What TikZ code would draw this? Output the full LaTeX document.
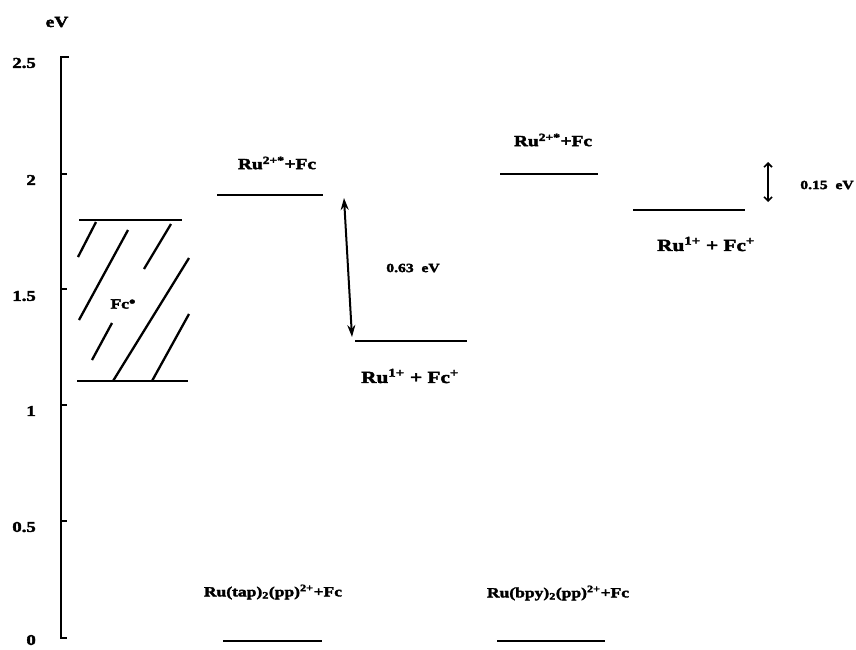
\documentclass[tikz,border=0pt]{standalone}
\usepackage{fontspec}
\setmainfont{Liberation Serif}
\newfontfamily\labfont{Liberation Serif}[FakeStretch=1.25,FakeBold=2.5]
\usetikzlibrary{arrows.meta}
\newcommand{\sps}[1]{\textsuperscript{#1}}
\newcommand{\sbs}[1]{\textsubscript{#1}}
\begin{document}
\begin{tikzpicture}[x=1pt,y=-1pt,
  lvl/.style={line width=2pt},
  hatch/.style={line width=2.3pt},
  axis/.style={line width=2.6pt},
  tk/.style={font=\labfont\bfseries\fontsize{15}{15}\selectfont, anchor=east, inner sep=0pt},
  lab/.style={font=\labfont\bfseries\fontsize{15.5}{15.5}\selectfont, inner sep=0pt},
  botlab/.style={font=\labfont\bfseries\fontsize{14}{14}\selectfont, inner sep=0pt},
  biglab/.style={font=\labfont\bfseries\fontsize{17}{17}\selectfont, inner sep=0pt},
  small/.style={font=\labfont\bfseries\fontsize{12.5}{12.5}\selectfont, inner sep=0pt}]
\useasboundingbox (0,0) rectangle (856,649);
% axis
\coordinate (atop) at (61,57);
\coordinate (abot) at (61,638);
\draw[axis] ([xshift=8]atop) -- (atop) -- (abot) -- ++(6,0);
\foreach \v/\y in {2/174,1.5/289,1/405,0.5/521}{
  \draw[line width=1.5pt] (61,\y) -- (67,\y);
}
\node[tk] (t25) at (36,63) {2.5};
\node[tk] (t2) at (36,180) {2};
\node[tk] (t15) at (36,296) {1.5};
\node[tk] (t1) at (36,411) {1};
\node[tk] (t05) at (36,527) {0.5};
\node[tk] (t0) at (36,640) {0};
\node[lab] (ev) at (57,22) {eV};
% Fc box
\draw[lvl] (79,220) -- (182,220);
\draw[lvl] (77,381) -- (188,381);
\draw[hatch] (96,222) -- (78,257);
\draw[hatch] (128,230) -- (79,320);
\draw[hatch] (171,224) -- (144,269);
\draw[hatch] (189,258) -- (113,381);
\draw[hatch] (112,323) -- (92,360);
\draw[hatch] (189,314) -- (152,381);
\node[lab, font=\labfont\bfseries\fontsize{14}{14}\selectfont] (fc) at (123,304) {Fc\raisebox{0.3ex}{\fontsize{15}{15}\selectfont\textbullet}};
% middle
\draw[lvl] (217,195) coordinate (m2a) -- (323,195) coordinate (m2b);
\node[lab] (m2lab) at (277,163) {Ru\sps{2+*}+Fc};
\draw[lvl] (355,341) coordinate (m1a) -- (467,341) coordinate (m1b);
\node[biglab] (m1lab) at (410,376) {Ru\sps{1+} + Fc\sps{+}};
\coordinate (a1) at (344,198);
\coordinate (a2) at (352,337);
\draw[line width=2pt, {Stealth[length=12pt,width=8pt]}-{Stealth[length=12pt,width=8pt]}] (a1) -- (a2);
\node[small] (d1) at (413,268) {0.63\ \ eV};
% right
\draw[lvl] (500,174) coordinate (r2a) -- (598,174) coordinate (r2b);
\node[lab] (r2lab) at (553,140) {Ru\sps{2+*}+Fc};
\draw[lvl] (633,210) coordinate (r1a) -- (745,210) coordinate (r1b);
\node[biglab] (r1lab) at (706,244) {Ru\sps{1+} + Fc\sps{+}};
\coordinate (b1) at (768,162);
\coordinate (b2) at (768,202);
\draw[line width=1.6pt, {Straight Barb[length=4pt,width=8pt]}-{Straight Barb[length=4pt,width=8pt]}] (b1) -- (b2);
\node[small] (d2) at (827,185) {0.15\ \ eV};
% bottom
\node[botlab] (g1lab) at (273,592) {Ru(tap)\sbs{2}(pp)\sps{2+}+Fc};
\draw[lvl] (223,641) coordinate (g1a) -- (322,641) coordinate (g1b);
\node[botlab] (g2lab) at (558,593) {Ru(bpy)\sbs{2}(pp)\sps{2+}+Fc};
\draw[lvl] (497,641) coordinate (g2a) -- (605,641) coordinate (g2b);
\end{tikzpicture}
\end{document}
